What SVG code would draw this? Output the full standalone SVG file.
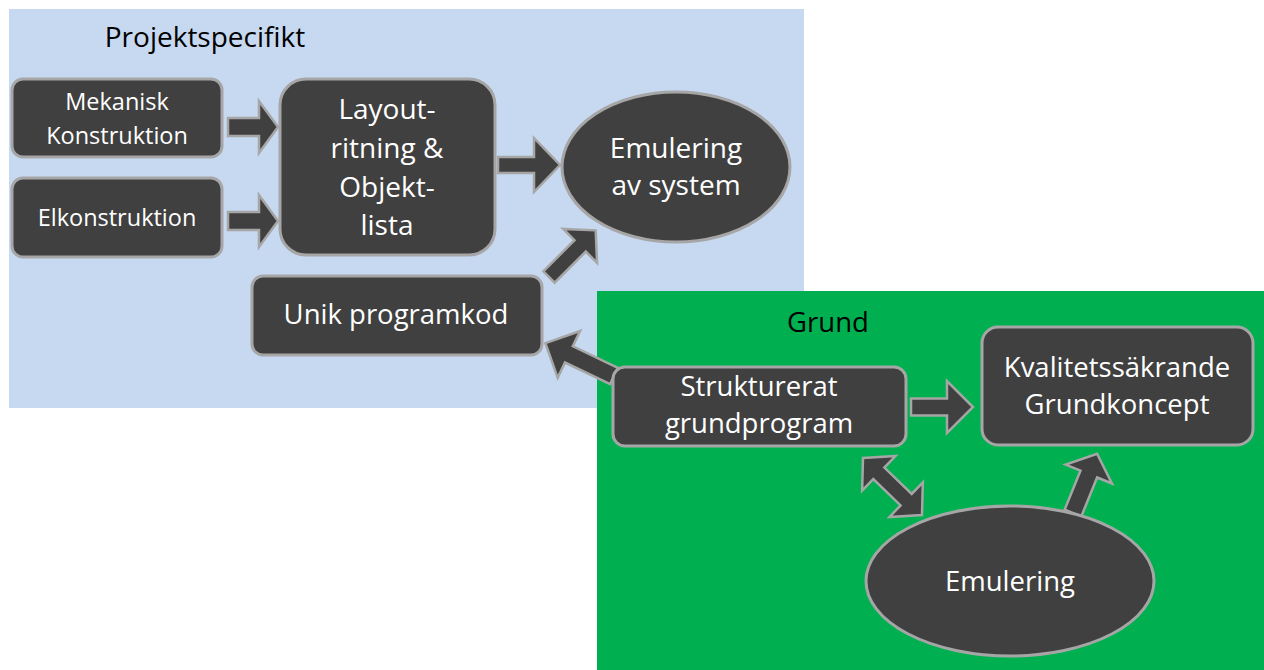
<svg xmlns="http://www.w3.org/2000/svg" width="1264" height="670" viewBox="0 0 1264 670">
  <style>
    .node { fill: #404040; stroke: #a6a6a6; stroke-width: 3; }
    .arrow { fill: #404040; stroke: #a6a6a6; stroke-width: 2.5; stroke-linejoin: miter; }
    .lbl { font-family: "Open Sans", "Liberation Sans", sans-serif; fill: #ffffff; text-anchor: middle; }
    .title { font-family: "Open Sans", "Liberation Sans", sans-serif; fill: #000000; text-anchor: middle; }
    .s { font-size: 23.5px; }
    .m { font-size: 27.5px; }
    .l { font-size: 28px; }
  </style>

  <!-- backgrounds -->
  <g id="area-projekt">
    <rect x="9" y="9" width="795" height="399" fill="#c6d9f1"/>
    <text class="title l" x="205" y="47">Projektspecifikt</text>
  </g>
  <g id="area-grund">
    <rect x="597" y="291" width="667" height="379" fill="#00b050"/>
    <text class="title m" x="828" y="332">Grund</text>
  </g>

  <!-- connectors: block arrows drawn along +x, then placed -->
  <g id="connectors">
    <path class="arrow" transform="translate(228,127)" d="M0,-9 L31,-9 L31,-26 L50,0 L31,26 L31,9 L0,9 Z"/>
    <path class="arrow" transform="translate(228,221)" d="M0,-9 L31,-9 L31,-26 L50,0 L31,26 L31,9 L0,9 Z"/>
    <path class="arrow" transform="translate(498,165)" d="M0,-8 L36,-8 L36,-27 L62,0 L36,27 L36,8 L0,8 Z"/>
    <path class="arrow" transform="translate(549,277) rotate(-45)" d="M0,-8 L44,-8 L44,-24 L66,0 L44,24 L44,8 L0,8 Z"/>
    <path class="arrow" transform="translate(614,376) rotate(205.6)" d="M0,-9 L50,-9 L50,-26 L76,0 L50,26 L50,9 L0,9 Z"/>
    <path class="arrow" transform="translate(911,407)" d="M0,-8.5 L36,-8.5 L36,-26 L62,0 L36,26 L36,8.5 L0,8.5 Z"/>
    <path class="arrow" transform="translate(863,458) rotate(44)" d="M0,0 L22,-24 L22,-8 L60,-8 L60,-24 L82,0 L60,24 L60,8 L22,8 L22,24 Z"/>
    <path class="arrow" transform="translate(1073,513) rotate(-67.9)" d="M0,-9 L42,-9 L42,-25 L64,0 L42,25 L42,9 L0,9 Z"/>
  </g>

  <!-- nodes -->
  <g id="n-mekanisk">
    <rect class="node" x="12" y="79" width="210" height="78" rx="11"/>
    <text class="lbl s" x="117" y="110">Mekanisk</text>
    <text class="lbl s" x="117" y="144">Konstruktion</text>
  </g>
  <g id="n-elkonstruktion">
    <rect class="node" x="12" y="178" width="210" height="79" rx="11"/>
    <text class="lbl s" x="117" y="226">Elkonstruktion</text>
  </g>
  <g id="n-layout">
    <rect class="node" x="280" y="79" width="215" height="176" rx="26"/>
    <text class="lbl l" x="387" y="119">Layout-</text>
    <text class="lbl l" x="387" y="158">ritning &amp;</text>
    <text class="lbl l" x="387" y="197">Objekt-</text>
    <text class="lbl l" x="387" y="235">lista</text>
  </g>
  <g id="n-emulering-system">
    <ellipse class="node" cx="676" cy="167" rx="114" ry="75"/>
    <text class="lbl l" x="676" y="158">Emulering</text>
    <text class="lbl l" x="676" y="195">av system</text>
  </g>
  <g id="n-unik">
    <rect class="node" x="252" y="276" width="290" height="79" rx="11"/>
    <text class="lbl m" x="396" y="324">Unik programkod</text>
  </g>
  <g id="n-strukturerat">
    <rect class="node" x="613" y="367" width="293" height="79" rx="12"/>
    <text class="lbl m" x="759" y="396">Strukturerat</text>
    <text class="lbl m" x="759" y="433">grundprogram</text>
  </g>
  <g id="n-kvalitet">
    <rect class="node" x="982" y="327" width="271" height="118" rx="16"/>
    <text class="lbl m" x="1117" y="377">Kvalitetssäkrande</text>
    <text class="lbl m" x="1117" y="414">Grundkoncept</text>
  </g>
  <g id="n-emulering">
    <ellipse class="node" cx="1010" cy="581" rx="144" ry="75"/>
    <text class="lbl m" x="1010" y="591">Emulering</text>
  </g>
</svg>
